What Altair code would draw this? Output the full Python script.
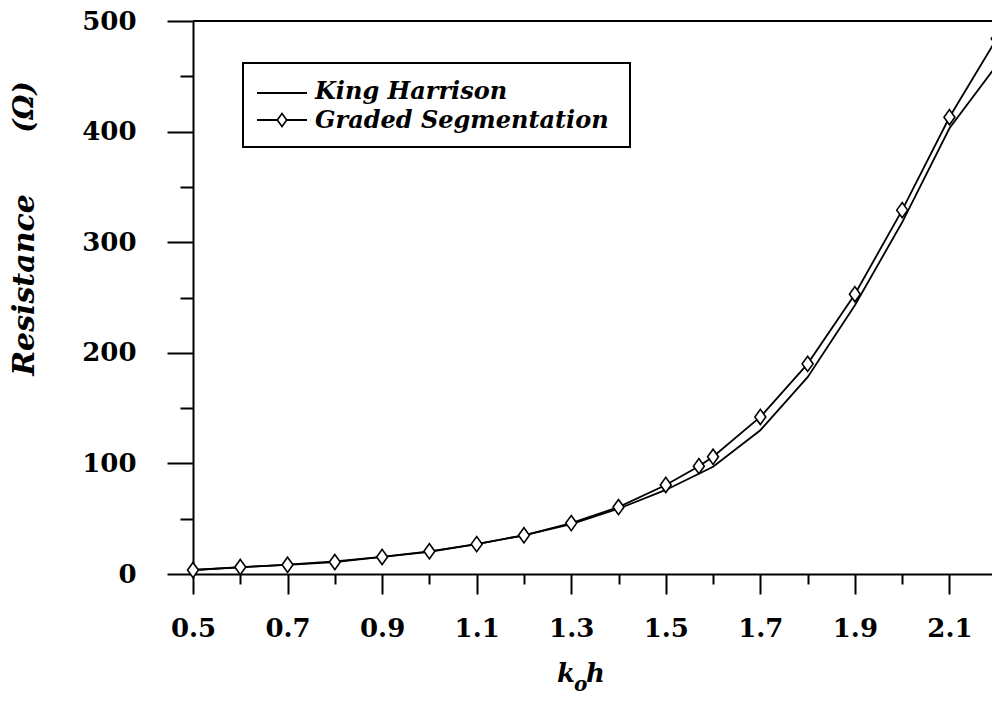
import altair as alt
import pandas as pd

# Wave number (k_o h) sample points and computed resistance (ohms)
kh_x = [0.5, 0.6, 0.7, 0.8, 0.9, 1.0, 1.1, 1.2, 1.3, 1.4, 1.5, 1.6, 1.7, 1.8, 1.9, 2.0, 2.1, 2.2]
king_harrison = [3.6, 6.0, 8.5, 11.5, 15.5, 20.0, 27.0, 35.0, 45.0, 59.0, 76.0, 97.0, 130.0, 178.0, 243.0, 318.0, 403.0, 460.0]

gs_x = [0.5, 0.6, 0.7, 0.8, 0.9, 1.0, 1.1, 1.2, 1.3, 1.4, 1.5, 1.57, 1.6, 1.7, 1.8, 1.9, 2.0, 2.1, 2.2]
graded_segmentation = [3.6, 6.3, 8.3, 10.8, 15.4, 20.5, 27.0, 35.0, 46.0, 60.5, 80.5, 97.5, 106.0, 142.0, 190.0, 253.0, 329.0, 413.0, 484.0]

x_major = [0.5, 0.7, 0.9, 1.1, 1.3, 1.5, 1.7, 1.9, 2.1]
x_minor = [0.6, 0.8, 1.0, 1.2, 1.4, 1.6, 1.8, 2.0]
y_major = [0, 100, 200, 300, 400, 500]
y_minor = [50, 150, 250, 350, 450]

series_names = ["King Harrison", "Graded Segmentation"]

FONT = "DejaVu Serif"
DIAMOND = "M0,-1L0.72,0L0,1L-0.72,0Z"

kh_df = pd.DataFrame({"x": kh_x, "y": king_harrison})
gs_df = pd.DataFrame({"x": gs_x, "y": graded_segmentation})

x_scale = alt.Scale(domain=[0.5, 2.19], nice=False, zero=False)
y_scale = alt.Scale(domain=[0, 500], nice=False, zero=False)

tick_style = dict(title=None, grid=False, tickColor="black", tickWidth=2)
label_style = dict(labelFont=FONT, labelFontSize=26, labelFontWeight="bold", labelColor="black",
                   labelFlush=False, labelOverlap=False)

x_axis_major = alt.Axis(
    values=x_major, format=".1f", orient="bottom", tickSize=20, labelPadding=21,
    domainColor="black", domainWidth=2, **tick_style, **label_style,
)
y_axis_major = alt.Axis(
    values=y_major, orient="left", tickSize=26, labelPadding=31,
    domainColor="black", domainWidth=2, **tick_style, **label_style,
)
x_axis_minor = alt.Axis(values=x_minor, orient="bottom", tickSize=10, labels=False,
                        domain=False, **tick_style)
y_axis_minor = alt.Axis(values=y_minor, orient="left", tickSize=13, labels=False,
                        domain=False, **tick_style)

kh_line = alt.Chart(kh_df).mark_line(color="black", strokeWidth=1.8, clip=True).encode(
    x=alt.X("x:Q", scale=x_scale, axis=x_axis_major),
    y=alt.Y("y:Q", scale=y_scale, axis=y_axis_major),
)
gs_line = alt.Chart(gs_df).mark_line(color="black", strokeWidth=1.8, clip=True).encode(
    x=alt.X("x:Q", scale=x_scale, axis=x_axis_minor),
    y=alt.Y("y:Q", scale=y_scale, axis=y_axis_minor),
)
gs_points = alt.Chart(gs_df).mark_point(
    shape=DIAMOND, size=230, filled=True, fill="white", stroke="black", strokeWidth=1.6,
    opacity=1,
).encode(
    x=alt.X("x:Q", axis=None),
    y=alt.Y("y:Q", axis=None),
)

# top frame line
frame_top = alt.Chart(pd.DataFrame({"y": [500]})).mark_rule(color="black", strokeWidth=2).encode(
    y=alt.Y("y:Q", axis=None)
)

one = pd.DataFrame({"a": [0]})

# legend box
legend_box = alt.Chart(one).mark_rect(fill="white", stroke="black", strokeWidth=2).encode(
    x=alt.value(50), x2=alt.value(437), y=alt.value(42), y2=alt.value(126)
)
legend_line1 = alt.Chart(one).mark_rule(color="black", strokeWidth=1.8).encode(
    x=alt.value(64), x2=alt.value(114), y=alt.value(72)
)
legend_line2 = alt.Chart(one).mark_rule(color="black", strokeWidth=1.8).encode(
    x=alt.value(64), x2=alt.value(114), y=alt.value(99)
)
legend_diamond = alt.Chart(one).mark_point(
    shape=DIAMOND, size=170, filled=True, fill="white", stroke="black", strokeWidth=1.6, opacity=1
).encode(x=alt.value(89), y=alt.value(99))


def label_text(text, x, y, size, angle=0, align="left", baseline="alphabetic"):
    return alt.Chart(one).mark_text(
        text=text, font=FONT, fontSize=size, fontStyle="italic", fontWeight="bold",
        color="black", angle=angle, align=align, baseline=baseline,
    ).encode(x=alt.value(x), y=alt.value(y))


legend_text1 = label_text(series_names[0], 122, 78, 24)
legend_text2 = label_text(series_names[1], 122, 107, 24)

# axis titles
y_title = label_text("Resistance", -168, 264, 30, angle=270, align="center", baseline="middle")
y_unit = label_text("(Ω)", -168, 86, 28, angle=270, align="center", baseline="middle")
x_title_k = label_text("k", 364, 661, 26)
x_title_o = label_text("o", 381, 670, 20)
x_title_h = label_text("h", 393, 661, 26)

chart = alt.layer(
    kh_line, gs_line, gs_points, frame_top,
    legend_box, legend_line1, legend_line2, legend_diamond, legend_text1, legend_text2,
    y_title, y_unit, x_title_k, x_title_o, x_title_h,
).resolve_axis(
    x="independent", y="independent"
).properties(
    width=799, height=553,
    autosize=alt.AutoSizeParams(type="none"),
    padding={"left": 193, "top": 21, "right": 0, "bottom": 120},
    background="white",
).configure_view(stroke=None)

chart.save("out.html", embed_options={"renderer": "svg", "actions": False})
